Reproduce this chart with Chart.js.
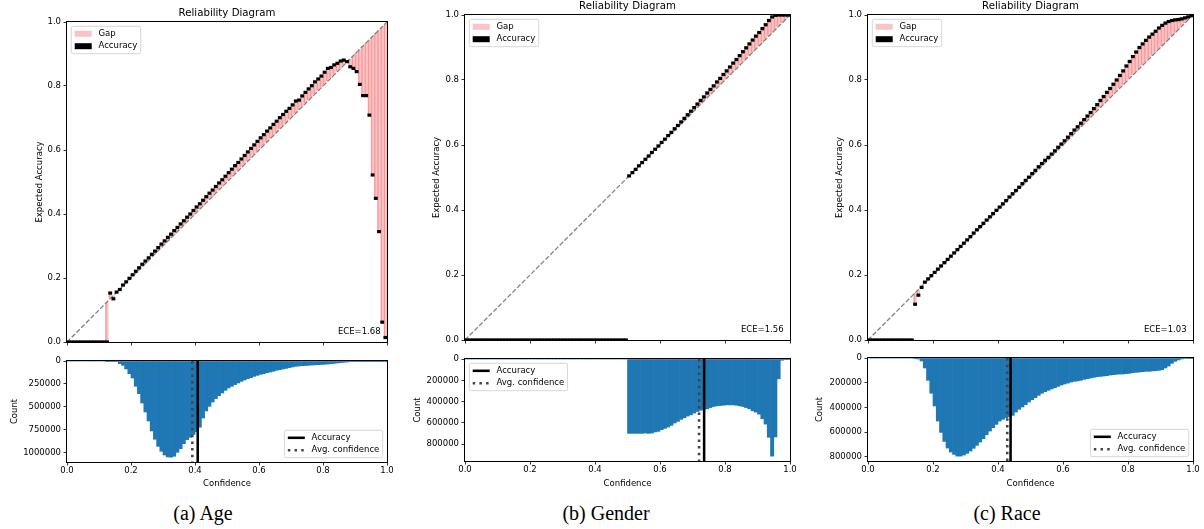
<!DOCTYPE html>
<html>
<head>
<meta charset="utf-8">
<script src="https://cdn.jsdelivr.net/npm/chart.js@4.4.1/dist/chart.umd.min.js"></script>
<style>
    body { margin: 0; background: #fff; width: 1204px; height: 529px; position: relative; overflow: hidden; }
    canvas { position: absolute; }
    .cap { position: absolute; top: 513px; transform: translate(-50%, -50%); white-space: nowrap;
           font-family: "Liberation Serif", "Times New Roman", serif; font-size: 20px; color: #000; }
</style>
</head>
<body>
<canvas id="relAge"></canvas><canvas id="histAge"></canvas>
<canvas id="relGender"></canvas><canvas id="histGender"></canvas>
<canvas id="relRace"></canvas><canvas id="histRace"></canvas>
<div class="cap" style="left:203px">(a) Age</div>
<div class="cap" style="left:606px">(b) Gender</div>
<div class="cap" style="left:1007px">(c) Race</div>
<script>
// 100 bins on [0, 1]
var binCenters = Array.from({ length: 100 }, (_, i) => (i + 0.5) / 100);
var confTicks = [0, 0.2, 0.4, 0.6, 0.8, 1.0];
var accTicks = [0, 0.2, 0.4, 0.6, 0.8, 1.0];
var ageCountTicks = [0, 250000, 500000, 750000, 1000000];
var genderCountTicks = [0, 200000, 400000, 600000, 800000];
var raceCountTicks = [0, 200000, 400000, 600000, 800000];

// accuracy per bin
var ageAccuracy = [
    0, 0, 0, 0, 0, 0, 0, 0, 0, 0,
    0, 0, 0, .153, .135, .156, .164, .178, .188, .199,
    .210, .221, .232, .243, .253, .263, .274, .284, .295, .306,
    .316, .327, .337, .348, .358, .369, .379, .390, .400, .411,
    .422, .432, .443, .454, .465, .475, .486, .497, .507, .518,
    .529, .540, .551, .561, .572, .583, .594, .605, .616, .627,
    .638, .648, .659, .669, .680, .690, .701, .711, .721, .730,
    .741, .753, .756, .769, .780, .791, .801, .813, .822, .831,
    .843, .855, .858, .866, .871, .878, .881, .876, .860, .855,
    .845, .805, .770, .770, .709, .522, .449, .345, .062, .014
];
var ageCounts = [
    0, 0, 0, 0, 0, 0, 0, 0, 0, 0,
    0, 0, 400, 2000, 3500, 6000, 29000, 47000, 87000, 138000,
    185000, 275000, 355000, 457000, 554000, 652000, 761000, 851000, 928000, 982000,
    1022000, 1043000, 1046000, 1036000, 993000, 953000, 899000, 855000, 830000, 800000,
    770000, 720000, 620000, 543000, 493000, 446000, 409000, 377000, 348000, 319000,
    293000, 275000, 257000, 239000, 221000, 206000, 192000, 181000, 167000, 156000,
    145000, 138000, 127000, 120000, 112000, 101000, 94000, 87000, 80000, 72000,
    65000, 58000, 54000, 51000, 49000, 47000, 44000, 42000, 40000, 38000,
    36000, 33000, 29000, 25000, 22000, 18000, 14000, 11000, 7000, 4000,
    3000, 2500, 2000, 1500, 1200, 1000, 800, 600, 400, 200
];

var genderAccuracy = [
    0, 0, 0, 0, 0, 0, 0, 0, 0, 0,
    0, 0, 0, 0, 0, 0, 0, 0, 0, 0,
    0, 0, 0, 0, 0, 0, 0, 0, 0, 0,
    0, 0, 0, 0, 0, 0, 0, 0, 0, 0,
    0, 0, 0, 0, 0, 0, 0, 0, 0, 0,
    .505, .515, .525, .536, .546, .556, .566, .577, .587, .597,
    .608, .618, .629, .639, .650, .660, .671, .682, .693, .704,
    .715, .726, .737, .748, .760, .771, .782, .794, .805, .817,
    .828, .840, .852, .863, .875, .887, .899, .911, .923, .935,
    .946, .958, .970, .983, .994, .999, 1, 1, 1, 1
];
var genderCounts = [
    0, 0, 0, 0, 0, 0, 0, 0, 0, 0,
    0, 0, 0, 0, 0, 0, 0, 0, 0, 0,
    0, 0, 0, 0, 0, 0, 0, 0, 0, 0,
    0, 0, 0, 0, 0, 0, 0, 0, 0, 0,
    0, 0, 0, 0, 0, 0, 0, 0, 0, 0,
    698000, 698000, 698000, 698000, 698000, 695000, 698000, 695000, 685000, 679000,
    663000, 651000, 639000, 623000, 601000, 586000, 567000, 552000, 536000, 524000,
    508000, 493000, 481000, 471000, 468000, 456000, 446000, 440000, 437000, 434000,
    431000, 431000, 431000, 434000, 440000, 446000, 456000, 468000, 487000, 499000,
    518000, 561000, 611000, 735000, 912000, 732000, 186000, 12000, 3000, 1000
];

var raceAccuracy = [
    0, 0, 0, 0, 0, 0, 0, 0, 0, 0,
    0, 0, 0, 0, .110, .138, .162, .178, .188, .198,
    .208, .218, .228, .238, .248, .258, .268, .278, .288, .298,
    .308, .318, .329, .339, .349, .359, .369, .379, .389, .399,
    .409, .419, .429, .440, .450, .460, .470, .481, .491, .501,
    .512, .522, .533, .543, .553, .562, .572, .582, .593, .603,
    .613, .624, .635, .646, .656, .667, .678, .689, .700, .712,
    .724, .737, .749, .762, .774, .787, .800, .814, .828, .843,
    .857, .872, .886, .900, .911, .922, .932, .941, .950, .960,
    .968, .975, .980, .983, .985, .986, .988, .991, .994, .998
];
var raceCounts = [
    0, 0, 0, 0, 0, 0, 0, 0, 0, 0,
    0, 0, 0, 0, 2000, 8000, 24000, 81000, 181000, 286000,
    389000, 511000, 603000, 676000, 730000, 762000, 781000, 795000, 795000, 786000,
    773000, 754000, 732000, 708000, 681000, 654000, 622000, 592000, 565000, 538000,
    511000, 497000, 484000, 476000, 465000, 438000, 416000, 397000, 378000, 357000,
    338000, 322000, 303000, 286000, 273000, 262000, 251000, 241000, 230000, 219000,
    211000, 203000, 195000, 189000, 186000, 181000, 173000, 168000, 162000, 157000,
    151000, 149000, 146000, 143000, 138000, 135000, 132000, 130000, 130000, 127000,
    124000, 119000, 116000, 114000, 111000, 108000, 108000, 105000, 103000, 100000,
    95000, 81000, 65000, 43000, 27000, 16000, 8000, 4000, 2000, 1000
];

// ECE (%), average accuracy and average confidence
var eceValues = [1.68, 1.56, 1.03];
var avgAccuracy = [0.4085, 0.7358, 0.4387];
var avgConfidence = [0.3917, 0.7202, 0.4284];

var FONT = '"DejaVu Sans", sans-serif';
Chart.defaults.font.family = FONT;
Chart.defaults.font.size = 8.5;
Chart.defaults.color = '#000';
Chart.defaults.animation = false;

// frame, title, ECE text and the boxed legend, matplotlib style
var decor = {
    id: 'decor',
    afterDatasetsDraw: function (chart, args, opts) {
        var ctx = chart.ctx, a = chart.chartArea;
        ctx.save();
        ctx.strokeStyle = '#000';
        ctx.lineWidth = 1;
        ctx.strokeRect(a.left - 0.5, a.top - 0.5, a.right - a.left + 1, a.bottom - a.top + 1);

        if (opts.title) {
            ctx.font = '10.2px ' + FONT;
            ctx.fillStyle = '#000';
            ctx.textAlign = 'center';
            ctx.textBaseline = 'middle';
            ctx.fillText(opts.title, (a.left + a.right) / 2, a.top - 9);
        }
        if (opts.ece) {
            ctx.font = '8.5px ' + FONT;
            ctx.textAlign = 'right';
            ctx.textBaseline = 'bottom';
            ctx.fillText(opts.ece, a.right - 6.4, a.bottom - 6.4);
        }

        var items = chart.data.datasets.filter(d => d.legendKind);
        if (items.length) {
            ctx.font = '8.5px ' + FONT;
            var pad = 3.4, handle = 17, hpad = 6.8, rowH = 8.2, rowGap = 4.2;
            var tw = Math.max.apply(null, items.map(d => ctx.measureText(d.label).width));
            var w = pad + handle + hpad + tw + pad;
            var h = pad * 2 + items.length * rowH + (items.length - 1) * rowGap;
            var x = opts.legendAt === 'br' ? a.right - 4.3 - w : a.left + 4.3;
            var y = opts.legendAt === 'br' ? a.bottom - 4.3 - h : a.top + 4.3;
            ctx.beginPath();
            ctx.roundRect(x, y, w, h, 2);
            ctx.fillStyle = 'rgba(255,255,255,0.8)';
            ctx.fill();
            ctx.strokeStyle = '#cccccc';
            ctx.lineWidth = 0.8;
            ctx.stroke();
            items.forEach(function (d, i) {
                var cy = y + pad + rowH / 2 + i * (rowH + rowGap);
                if (d.legendKind === 'patch') {
                    ctx.fillStyle = d.backgroundColor;
                    ctx.fillRect(x + pad, cy - 3, handle, 6);
                } else {
                    ctx.beginPath();
                    ctx.setLineDash(d.borderDash || []);
                    ctx.strokeStyle = d.borderColor;
                    ctx.lineWidth = d.borderWidth;
                    ctx.moveTo(x + pad, cy);
                    ctx.lineTo(x + pad + handle, cy);
                    ctx.stroke();
                    ctx.setLineDash([]);
                }
                ctx.fillStyle = '#000';
                ctx.textAlign = 'left';
                ctx.textBaseline = 'middle';
                ctx.fillText(d.label, x + pad + handle + hpad, cy);
            });
        }
        ctx.restore();
    }
};

var tickGrid = { drawOnChartArea: false, tickLength: 3.5, tickWidth: 0.8, tickColor: '#000', offset: false };

var panels = [
    { name: 'Age', accuracy: ageAccuracy, counts: ageCounts, countTicks: ageCountTicks, k: 0,
      left: 67, right: 387, relTop: 22, relBottom: 342, histTop: 361, histBottom: 462,
      accLabelX: 39.5, countLabelX: 15, histLegend: 'br' },
    { name: 'Gender', accuracy: genderAccuracy, counts: genderCounts, countTicks: genderCountTicks, k: 1,
      left: 465, right: 790, relTop: 15, relBottom: 340, histTop: 359, histBottom: 461,
      accLabelX: 437, countLabelX: 418, histLegend: 'tl' },
    { name: 'Race', accuracy: raceAccuracy, counts: raceCounts, countTicks: raceCountTicks, k: 2,
      left: 868, right: 1193, relTop: 15, relBottom: 340, histTop: 358, histBottom: 461,
      accLabelX: 839.5, countLabelX: 819.5, histLegend: 'br' }
];

function place(cv, left, top, w, h) {
    cv.width = w; cv.height = h;
    cv.style.left = left + 'px'; cv.style.top = top + 'px';
}

function reliabilityChart(p) {
    var cv = document.getElementById('rel' + p.name);
    var cl = p.left - 67;
    place(cv, cl, 0, p.right - cl + 8, p.relBottom + 10);

    var gap = [], marks = [];
    binCenters.forEach(function (c, i) {
        var acc = p.accuracy[i];
        marks.push({ x: c, y: [acc - 0.004, acc + 0.004] });
        if (p.counts[i] > 0) gap.push({ x: c, y: [Math.min(acc, c), Math.max(acc, c)] });
    });

    new Chart(cv, {
        type: 'bar',
        data: {
            datasets: [
                { label: 'Gap', data: gap, legendKind: 'patch', order: 3, grouped: false,
                  backgroundColor: 'rgba(240,60,60,0.3)', borderColor: 'rgba(240,60,60,0.42)',
                  borderWidth: { left: 0.8, right: 0, top: 0, bottom: 0 }, borderSkipped: false,
                  barPercentage: 1, categoryPercentage: 1 },
                { label: 'Accuracy', data: marks, legendKind: 'patch', order: 1, grouped: false,
                  backgroundColor: '#000', barPercentage: 1, categoryPercentage: 1 },
                { type: 'line', label: 'diagonal', data: [{ x: 0, y: 0 }, { x: 1, y: 1 }], order: 2,
                  borderColor: '#808080', borderWidth: 1.25, borderDash: [4.7, 2], pointRadius: 0 }
            ]
        },
        options: {
            responsive: false,
            animation: false,
            layout: { padding: { top: p.relTop, right: 8, left: 0, bottom: 0 } },
            plugins: {
                legend: { display: false },
                tooltip: { enabled: false },
                decor: { title: 'Reliability Diagram', ece: 'ECE=' + eceValues[p.k].toFixed(2), legendAt: 'tl' }
            },
            scales: {
                x: {
                    type: 'linear', min: 0, max: 1, offset: false,
                    grid: tickGrid, border: { display: false },
                    ticks: { display: false },
                    afterBuildTicks: s => { s.ticks = confTicks.map(v => ({ value: v })); },
                    afterFit: s => { s.height = 10; }
                },
                y: {
                    type: 'linear', min: 0, max: 1,
                    grid: tickGrid, border: { display: false },
                    ticks: { padding: 2.5, callback: v => v.toFixed(1) },
                    title: { display: true, text: 'Expected Accuracy', padding: { top: p.accLabelX - cl - 5.1, bottom: 0 } },
                    afterBuildTicks: s => { s.ticks = accTicks.map(v => ({ value: v })); },
                    afterFit: s => { s.width = 67; }
                }
            }
        },
        plugins: [decor]
    });
}

function histogramChart(p) {
    var cv = document.getElementById('hist' + p.name);
    var cl = p.left - 67, ct = p.relBottom + 10;
    place(cv, cl, ct, p.right - cl + 8, 490 - ct);

    var ymax = Math.max.apply(null, p.counts) * 1.05;
    var bars = binCenters.map((c, i) => ({ x: c, y: p.counts[i] }));

    new Chart(cv, {
        type: 'bar',
        data: {
            datasets: [
                { label: 'counts', data: bars, order: 3, backgroundColor: '#1f77b4',
                  barPercentage: 1, categoryPercentage: 1 },
                { type: 'line', label: 'Accuracy', legendKind: 'line', order: 1,
                  data: [{ x: avgAccuracy[p.k], y: 0 }, { x: avgAccuracy[p.k], y: ymax }],
                  borderColor: '#000', borderWidth: 2.55, pointRadius: 0 },
                { type: 'line', label: 'Avg. confidence', legendKind: 'line', order: 2,
                  data: [{ x: avgConfidence[p.k], y: 0 }, { x: avgConfidence[p.k], y: ymax }],
                  borderColor: '#444', borderWidth: 2.55, borderDash: [2.5, 4.2], pointRadius: 0 }
            ]
        },
        options: {
            responsive: false,
            animation: false,
            layout: { padding: { top: p.histTop - ct, right: 8, left: 0, bottom: 0 } },
            plugins: {
                legend: { display: false },
                tooltip: { enabled: false },
                decor: { legendAt: p.histLegend }
            },
            scales: {
                x: {
                    type: 'linear', min: 0, max: 1, offset: false,
                    grid: tickGrid, border: { display: false },
                    ticks: { padding: 0.5, maxRotation: 0, callback: v => v.toFixed(1) },
                    title: { display: true, text: 'Confidence', padding: { top: 0, bottom: 0.9 } },
                    afterBuildTicks: s => { s.ticks = confTicks.map(v => ({ value: v })); },
                    afterFit: s => { s.height = 490 - p.histBottom; }
                },
                y: {
                    type: 'linear', min: 0, max: ymax, reverse: true,
                    grid: tickGrid, border: { display: false },
                    ticks: { padding: 2.5, callback: v => String(v) },
                    title: { display: true, text: 'Count', padding: { top: p.countLabelX - cl - 5.1, bottom: 0 } },
                    afterBuildTicks: s => { s.ticks = p.countTicks.map(v => ({ value: v })); },
                    afterFit: s => { s.width = 67; }
                }
            }
        },
        plugins: [decor]
    });
}

panels.forEach(function (p) {
    reliabilityChart(p);
    histogramChart(p);
});
</script>
</body>
</html>
